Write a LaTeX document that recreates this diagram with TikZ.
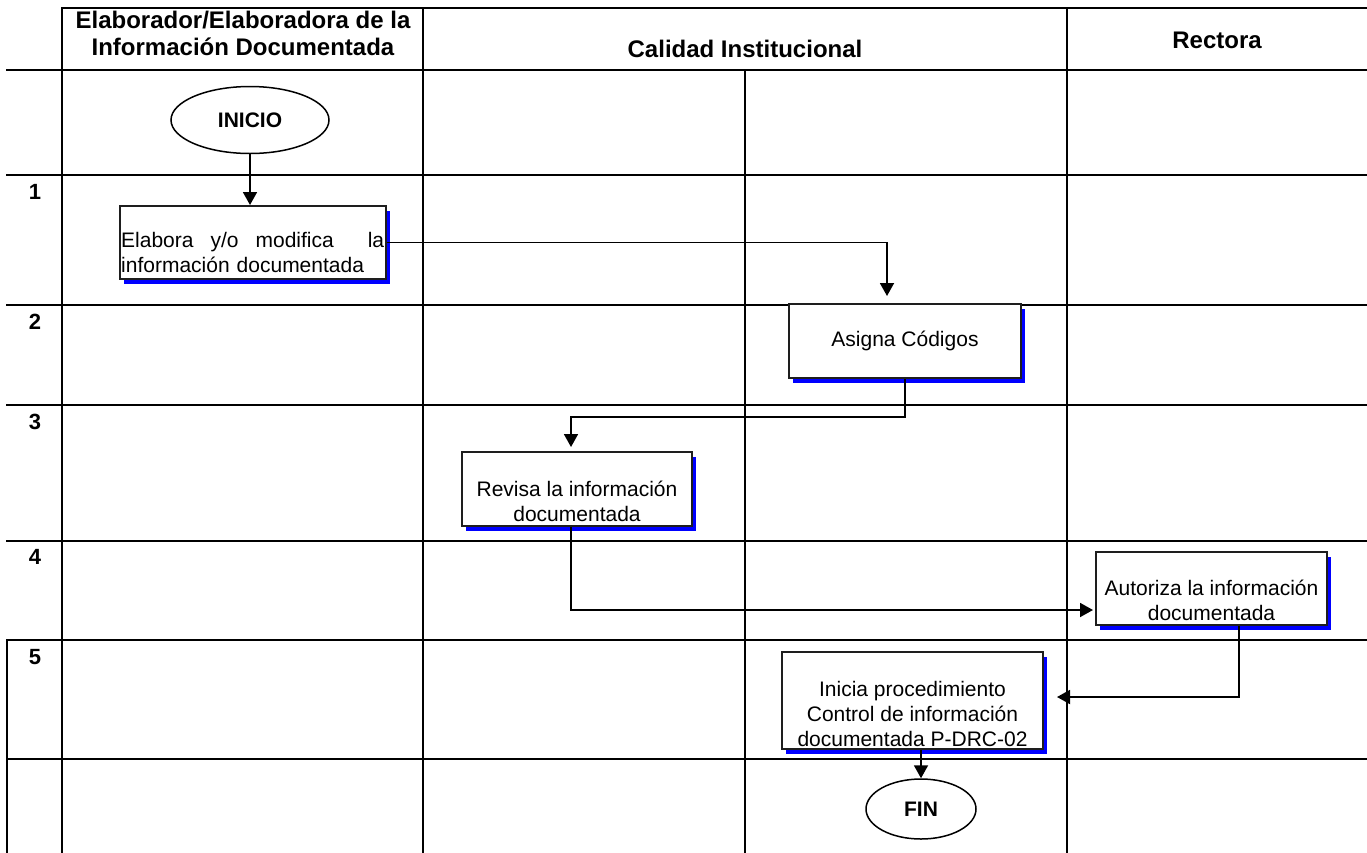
\documentclass[tikz,border=0pt]{standalone}
\usepackage{fontspec}
\setmainfont{Liberation Sans}
\usetikzlibrary{arrows.meta,shapes.geometric,shadows}
\definecolor{ink}{HTML}{000000}
\definecolor{boxline}{HTML}{1E1E1E}
\definecolor{shade}{HTML}{0000FF}

\begin{document}
\begin{tikzpicture}[x=1pt, y=-1pt]
  % --- the constants the table is drawn from (pixels, y downwards) ---------
  \def\xl{7}      % left edge of the numbering column
  \def\xa{62}     % numbering column | first lane
  \def\xb{423}    % first lane | Calidad Institucional
  \def\xc{745}    % split inside Calidad Institucional
  \def\xd{1067}   % Calidad Institucional | Rectora
  \def\xr{1367}   % right edge
  \def\yt{8}      % top of the header
  \def\yh{70}     % bottom of the header
  \def\yb{852}    % bottom edge

  \tikzset{
    tablerule/.style={draw=ink, line width=2.4pt, line cap=rect},
    lanehead/.style={font=\fontsize{24}{27}\selectfont\bfseries, align=center, inner sep=0pt},
    rownum/.style={font=\fontsize{22}{26}\selectfont\bfseries, inner sep=0pt},
    terminal/.style={ellipse, draw=ink, line width=1.5pt, fill=white, inner sep=0pt,
      font=\fontsize{21}{25}\selectfont\bfseries},
    stepbox/.style={draw=boxline, line width=2pt, fill=white, inner sep=0pt,
      font=\fontsize{21}{25}\selectfont,
      drop shadow={shadow xshift=4pt, shadow yshift=-5pt, fill=shade, opacity=1}},
    steptext/.style={font=\fontsize{21}{25}\selectfont, align=center, inner sep=0pt},
    flow/.style={draw=ink, line width=1.8pt, -{Triangle[length=13pt, width=14pt]}}}

  \useasboundingbox (0,0) rectangle (\xr,\yb);

  % ---- 1. the table ---------------------------------------------------------
  \draw[tablerule] (\xa,\yt) -- (\xr,\yt);
  \foreach \y in {\yh,175,305,405,541,640,759}{
    \draw[tablerule] (\xl,\y) -- (\xr,\y);}
  \foreach \x in {\xa,\xb,\xd}{
    \draw[tablerule] (\x,\yt) -- (\x,\yb);}
  \draw[tablerule] (\xc,\yh) -- (\xc,\yb);
  \draw[tablerule] (\xl,640) -- (\xl,\yb);

  % ---- 2. lane headers and step numbers -----------------------------------
  \node[lanehead] (hElab) at (243,33)
    {Elaborador/Elaboradora de la\\Información Documentada};
  \node[lanehead, anchor=base] (hCal) at (745,57) {Calidad Institucional};
  \node[lanehead, anchor=base] (hRec) at (1217,48) {Rectora};
  \foreach \n/\y in {1/192,2/322,3/422,4/557,5/657}{
    \node[rownum] (num\n) at (35,\y) {\n};}

  % ---- 3. the steps ---------------------------------------------------------
  \node[terminal, minimum width=158pt, minimum height=67pt] (inicio) at (250,120) {INICIO};
  \node[stepbox, minimum width=266pt, minimum height=73pt] (b1) at (253,242.5) {};
  % first line set full width, as the original justifies it
  \node[steptext, anchor=south west, text width=263pt, align=left]
    (t1) at ([xshift=2pt, yshift=7pt]b1.south west)
    {\hbox to 263pt{Elabora\hfill y/o\hfill modifica\hfill\hfill la}\\información documentada};
  \node[stepbox, minimum width=232pt, minimum height=74pt] (b2) at (905,341) {Asigna Códigos};
  \node[stepbox, minimum width=230pt, minimum height=74pt] (b3) at (577,489) {};
  \node[steptext, anchor=south] (t3) at ([yshift=5pt]b3.south)
    {Revisa la información\\documentada};
  \node[stepbox, minimum width=231pt, minimum height=73pt] (b4) at (1211.5,588.5) {};
  \node[steptext, anchor=south] (t4) at ([yshift=5pt]b4.south)
    {Autoriza la información\\documentada};
  \node[stepbox, minimum width=261pt, minimum height=97pt] (b5) at (912.5,700.5) {};
  \node[steptext, anchor=south] (t5) at ([yshift=3pt]b5.south)
    {Inicia procedimiento\\Control de información\\documentada P-DRC-02};
  \node[terminal, minimum width=110pt, minimum height=60pt] (fin) at (921,809) {FIN};

  % ---- 4. the flow ----------------------------------------------------------
  % free ends stop short of the boxes, as in the original
  \coordinate (in2) at (887,296);
  \coordinate (bend3) at (571,417);
  \coordinate (in3) at (571,447);
  \coordinate (in4) at (1093,610);
  \coordinate (out5) at (1239,625);
  \coordinate (in5) at (1057,697);

  \draw[flow] (inicio.south) -- (inicio.south |- b1.north);
  \draw[flow] (b1.east) -| (in2);
  \draw[flow] (b2.south) |- (bend3) -- (in3);
  \draw[flow] (b3.south -| in3) |- (in4);
  \draw[flow] (b4.south -| out5) |- (in5);
  \draw[flow] (b5.south -| fin.north) -- (fin.north);
\end{tikzpicture}
\end{document}
